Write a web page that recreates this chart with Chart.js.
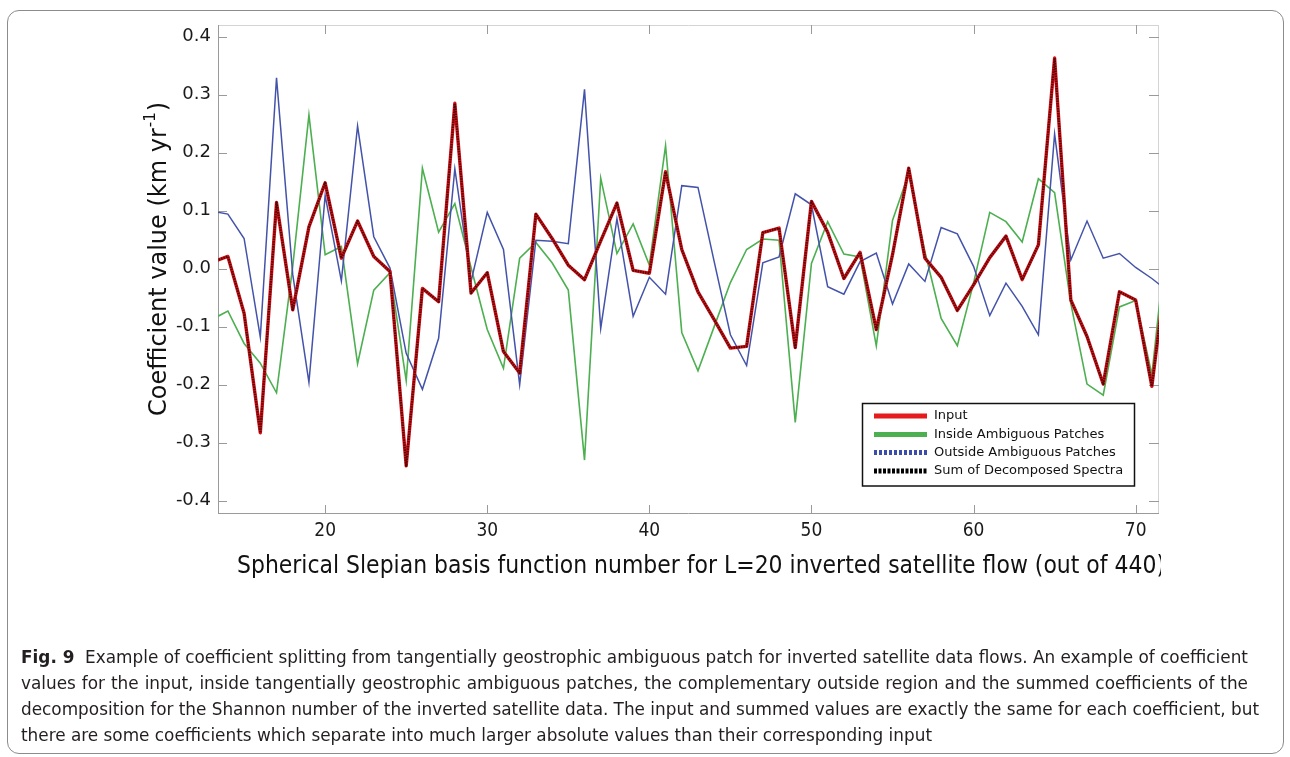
<!DOCTYPE html>
<html>
<head>
<meta charset="utf-8">
<script src="https://cdn.jsdelivr.net/npm/chart.js@4.4.0/dist/chart.umd.min.js"></script>
<style>
	html, body { margin: 0; padding: 0; background: #fff; }
	#wrap { position: relative; width: 1290px; height: 757px; overflow: hidden; }
	#frame { position: absolute; left: 7px; top: 10px; width: 1275px; height: 742px; border: 1px solid #8c8c8c; border-radius: 12px; }
	#c { position: absolute; left: 0; top: 0; }
	.cap { position: absolute; left: 21px; height: 26px; line-height: 26px; font-family: 'Liberation Sans Narrow', 'DejaVu Sans Condensed', 'DejaVu Sans', sans-serif; font-size: 18px; color: #231f20; white-space: nowrap; }
	.cap span { display: inline-block; transform-origin: 0 50%; }
	.cap b { font-weight: bold; }
</style>
</head>
<body>
<div id="wrap">
	<div id="frame"></div>
	<canvas id="c" width="1290" height="757"></canvas>
	<div class="cap" style="top:644px"><span data-w="1227"><b>Fig. 9</b>&nbsp; Example of coefficient splitting from tangentially geostrophic ambiguous patch for inverted satellite data flows. An example of coefficient</span></div>
	<div class="cap" style="top:670px"><span data-w="1227">values for the input, inside tangentially geostrophic ambiguous patches, the complementary outside region and the summed coefficients of the</span></div>
	<div class="cap" style="top:696px"><span data-w="1238">decomposition for the Shannon number of the inverted satellite data. The input and summed values are exactly the same for each coefficient, but</span></div>
	<div class="cap" style="top:722px"><span data-w="911" data-last="1">there are some coefficients which separate into much larger absolute values than their corresponding input</span></div>
</div>
<script>
// basis function numbers (x)
var basisNum = [13,14,15,16,17,18,19,20,21,22,23,24,25,26,27,28,29,30,31,32,33,34,35,36,37,38,39,40,41,42,
	43,44,45,46,47,48,49,50,51,52,53,54,55,56,57,58,59,60,61,62,63,64,65,66,67,68,69,70,71,72];

var inputVals = [0.011,0.021,-0.077,-0.283,0.114,-0.071,0.072,0.148,0.018,0.082,0.021,-0.005,-0.340,-0.034,-0.057,
	0.285,-0.042,-0.007,-0.143,-0.180,0.094,0.052,0.006,-0.019,0.048,0.113,-0.003,-0.008,0.167,0.033,
	-0.040,-0.088,-0.137,-0.134,0.062,0.070,-0.136,0.116,0.063,-0.017,0.028,-0.105,0.024,0.173,0.018,
	-0.015,-0.072,-0.028,0.019,0.056,-0.019,0.041,0.363,-0.054,-0.117,-0.199,-0.040,-0.054,-0.203,0.025];

var insideVals = [-0.088,-0.073,-0.129,-0.163,-0.214,0.004,0.265,0.024,0.038,-0.164,-0.037,-0.007,-0.193,0.173,0.063,
	0.112,0.002,-0.105,-0.172,0.018,0.045,0.010,-0.037,-0.330,0.156,0.026,0.077,0.006,0.212,-0.110,
	-0.176,-0.100,-0.024,0.033,0.051,0.049,-0.265,0.009,0.081,0.025,0.020,-0.133,0.083,0.164,0.029,
	-0.086,-0.133,-0.025,0.097,0.081,0.046,0.155,0.131,-0.060,-0.199,-0.218,-0.066,-0.055,-0.183,0.078];

var outsideVals = [0.099,0.094,0.052,-0.118,0.329,-0.010,-0.196,0.126,-0.021,0.246,0.055,0.001,-0.146,-0.208,-0.120,
	0.172,-0.022,0.097,0.033,-0.200,0.049,0.047,0.043,0.309,-0.103,0.086,-0.082,-0.015,-0.044,0.143,
	0.140,0.012,-0.114,-0.167,0.010,0.020,0.129,0.110,-0.031,-0.044,0.012,0.027,-0.061,0.008,-0.022,
	0.071,0.060,0.004,-0.081,-0.025,-0.065,-0.114,0.232,0.015,0.082,0.018,0.026,0.002,-0.017,-0.039];

// sum of decomposed spectra (sits on the input)
var sumVals = [0.011,0.021,-0.077,-0.283,0.114,-0.071,0.072,0.148,0.018,0.082,0.021,-0.005,-0.340,-0.034,-0.057,
	0.285,-0.042,-0.007,-0.143,-0.180,0.094,0.052,0.006,-0.019,0.048,0.113,-0.003,-0.008,0.167,0.033,
	-0.040,-0.088,-0.137,-0.134,0.062,0.070,-0.136,0.116,0.063,-0.017,0.028,-0.105,0.024,0.173,0.018,
	-0.015,-0.072,-0.028,0.019,0.056,-0.019,0.041,0.363,-0.054,-0.117,-0.199,-0.040,-0.054,-0.203,0.025];

var xTicks = [20,30,40,50,60,70];
var yTicks = [-0.4,-0.3,-0.2,-0.1,0.0,0.1,0.2,0.3,0.4];

var seriesNames = ['Input','Inside Ambiguous Patches','Outside Ambiguous Patches','Sum of Decomposed Spectra'];

function pts(vals){
	return basisNum.map(function(n, i){ return {x: n, y: vals[i]}; });
}

// box, inward ticks, axis titles and the boxed legend
var decor = {
	id: 'decor',
	beforeDatasetsDraw: function(chart){
		var ctx = chart.ctx, a = chart.chartArea;
		var xs = chart.scales.x, ys = chart.scales.y;
		ctx.save();
		ctx.lineWidth = 1;
		// top / right light
		ctx.strokeStyle = '#d4d4d4';
		ctx.beginPath();
		ctx.moveTo(a.left, a.top + 0.5); ctx.lineTo(a.right, a.top + 0.5);
		ctx.moveTo(a.right - 0.5, a.top); ctx.lineTo(a.right - 0.5, a.bottom);
		ctx.stroke();
		// left / bottom darker
		ctx.strokeStyle = '#9a9a9a';
		ctx.beginPath();
		ctx.moveTo(a.left + 0.5, a.top); ctx.lineTo(a.left + 0.5, a.bottom);
		ctx.moveTo(a.left, a.bottom - 0.5); ctx.lineTo(a.right, a.bottom - 0.5);
		ctx.stroke();
		// ticks
		ctx.strokeStyle = '#9a9a9a';
		ctx.beginPath();
		xTicks.forEach(function(v){
			var px = Math.round(xs.getPixelForValue(v)) + 0.5;
			ctx.moveTo(px, a.bottom); ctx.lineTo(px, a.bottom - 9);
			ctx.moveTo(px, a.top); ctx.lineTo(px, a.top + 9);
		});
		yTicks.forEach(function(v){
			var py = Math.round(ys.getPixelForValue(v)) + 0.5;
			ctx.moveTo(a.left, py); ctx.lineTo(a.left + 9, py);
			ctx.moveTo(a.right, py); ctx.lineTo(a.right - 10, py);
		});
		ctx.stroke();
		ctx.restore();
	},
	afterDatasetsDraw: function(chart){
		var ctx = chart.ctx, a = chart.chartArea;
		ctx.save();
		// x title, squeezed and clipped like the figure
		ctx.save();
		ctx.beginPath(); ctx.rect(0, 0, 1161, 757); ctx.clip();
		ctx.font = '24px "DejaVu Sans"';
		ctx.fillStyle = '#111';
		ctx.textBaseline = 'middle';
		var xt = 'Spherical Slepian basis function number for L=20 inverted satellite flow (out of 440)';
		var w = ctx.measureText(xt).width;
		ctx.translate(237, 567);
		ctx.scale(928 / w, 1);
		ctx.fillText(xt, 0, 0);
		ctx.restore();
		// y title with superscript
		ctx.save();
		ctx.translate(160, 416);
		ctx.rotate(-Math.PI / 2);
		ctx.fillStyle = '#111';
		ctx.textBaseline = 'middle';
		ctx.font = '24px "DejaVu Sans"';
		var t1 = 'Coefficient value (km yr';
		ctx.fillText(t1, 0, 0);
		var p = ctx.measureText(t1).width;
		ctx.font = '15px "DejaVu Sans"';
		ctx.fillText('-1', p + 1, -9);
		p += ctx.measureText('-1').width + 2;
		ctx.font = '24px "DejaVu Sans"';
		ctx.fillText(')', p, 0);
		ctx.restore();
		// legend
		var lx = 862.5, ly = 403.5, lw = 272, lh = 82.5;
		ctx.fillStyle = '#fff';
		ctx.fillRect(lx, ly, lw, lh);
		ctx.strokeStyle = '#111';
		ctx.lineWidth = 1.5;
		ctx.strokeRect(lx, ly, lw, lh);
		var rows = [416, 434.5, 452.5, 471];
		var sw = [
			{c: '#e41a1c', d: []},
			{c: '#4caf50', d: []},
			{c: '#3b4cab', d: [3, 2]},
			{c: '#000', d: [3, 1.5]}
		];
		ctx.font = '13px "DejaVu Sans"';
		ctx.textBaseline = 'middle';
		rows.forEach(function(y, i){
			ctx.beginPath();
			ctx.setLineDash(sw[i].d);
			ctx.strokeStyle = sw[i].c;
			ctx.lineWidth = 5;
			ctx.moveTo(874, y); ctx.lineTo(927, y);
			ctx.stroke();
			ctx.setLineDash([]);
			ctx.fillStyle = '#111';
			ctx.fillText(seriesNames[i], 934, y);
		});
		ctx.restore();
	}
};

var ctx = document.getElementById('c').getContext('2d');
var chart = new Chart(ctx, {
	type: 'line',
	data: {
		datasets: [
			{label: seriesNames[0], data: pts(inputVals), borderColor: '#d8141a', borderWidth: 3.4, borderJoinStyle: 'round', order: 1},
			{label: seriesNames[1], data: pts(insideVals), borderColor: '#4caf50', borderWidth: 1.6, order: 3},
			{label: seriesNames[2], data: pts(outsideVals), borderColor: '#4453aa', borderWidth: 1.5, order: 2},
			{label: seriesNames[3], data: pts(sumVals), borderColor: 'rgba(50,0,0,0.8)', borderWidth: 2.3, borderDash: [1.5, 1], borderJoinStyle: 'round', order: 0}
		]
	},
	options: {
		responsive: false,
		animation: false,
		events: [],
		elements: {point: {radius: 0}, line: {tension: 0, fill: false}},
		layout: {padding: {left: 0, top: 25, right: 131, bottom: 0}},
		plugins: {legend: {display: false}, tooltip: {enabled: false}},
		scales: {
			x: {
				type: 'linear', min: 13.39, max: 71.44,
				afterBuildTicks: function(s){ s.ticks = xTicks.map(function(v){ return {value: v}; }); },
				afterFit: function(s){ s.height = 243; },
				grid: {display: false, drawTicks: false},
				border: {display: false},
				ticks: {color: '#1a1a1a', padding: 6, maxRotation: 0, autoSkip: false,
					font: {family: '"DejaVu Sans Condensed", "DejaVu Sans"', size: 19},
					callback: function(v){ return String(v); }}
			},
			y: {
				min: -0.423, max: 0.42,
				afterBuildTicks: function(s){ s.ticks = yTicks.map(function(v){ return {value: v}; }); },
				afterFit: function(s){ s.width = 218; },
				grid: {display: false, drawTicks: false},
				border: {display: false},
				ticks: {color: '#1a1a1a', padding: 7, autoSkip: false,
					font: {family: '"DejaVu Sans"', size: 18},
					callback: function(v){ return v.toFixed(1); }}
			}
		}
	},
	plugins: [decor]
});

// caption: one horizontal squeeze taken from the last (unjustified) line,
// the other lines are justified with word spacing
function fitCaption(){
	var spans = Array.prototype.slice.call(document.querySelectorAll('.cap span'));
	spans.forEach(function(el){ el.style.transform = 'none'; el.style.wordSpacing = '0px'; });
	var last = spans.filter(function(el){ return el.getAttribute('data-last'); })[0];
	var s = (+last.getAttribute('data-w')) / last.getBoundingClientRect().width;
	spans.forEach(function(el){
		if (el !== last) {
			var w = el.getBoundingClientRect().width;
			var need = (+el.getAttribute('data-w')) / s;
			var gaps = el.textContent.split(' ').length - 1;
			if (gaps > 0) el.style.wordSpacing = ((need - w) / gaps) + 'px';
		}
		el.style.transform = 'scaleX(' + s + ')';
	});
}
fitCaption();
if (document.fonts && document.fonts.ready) document.fonts.ready.then(fitCaption);
</script>
</body>
</html>
